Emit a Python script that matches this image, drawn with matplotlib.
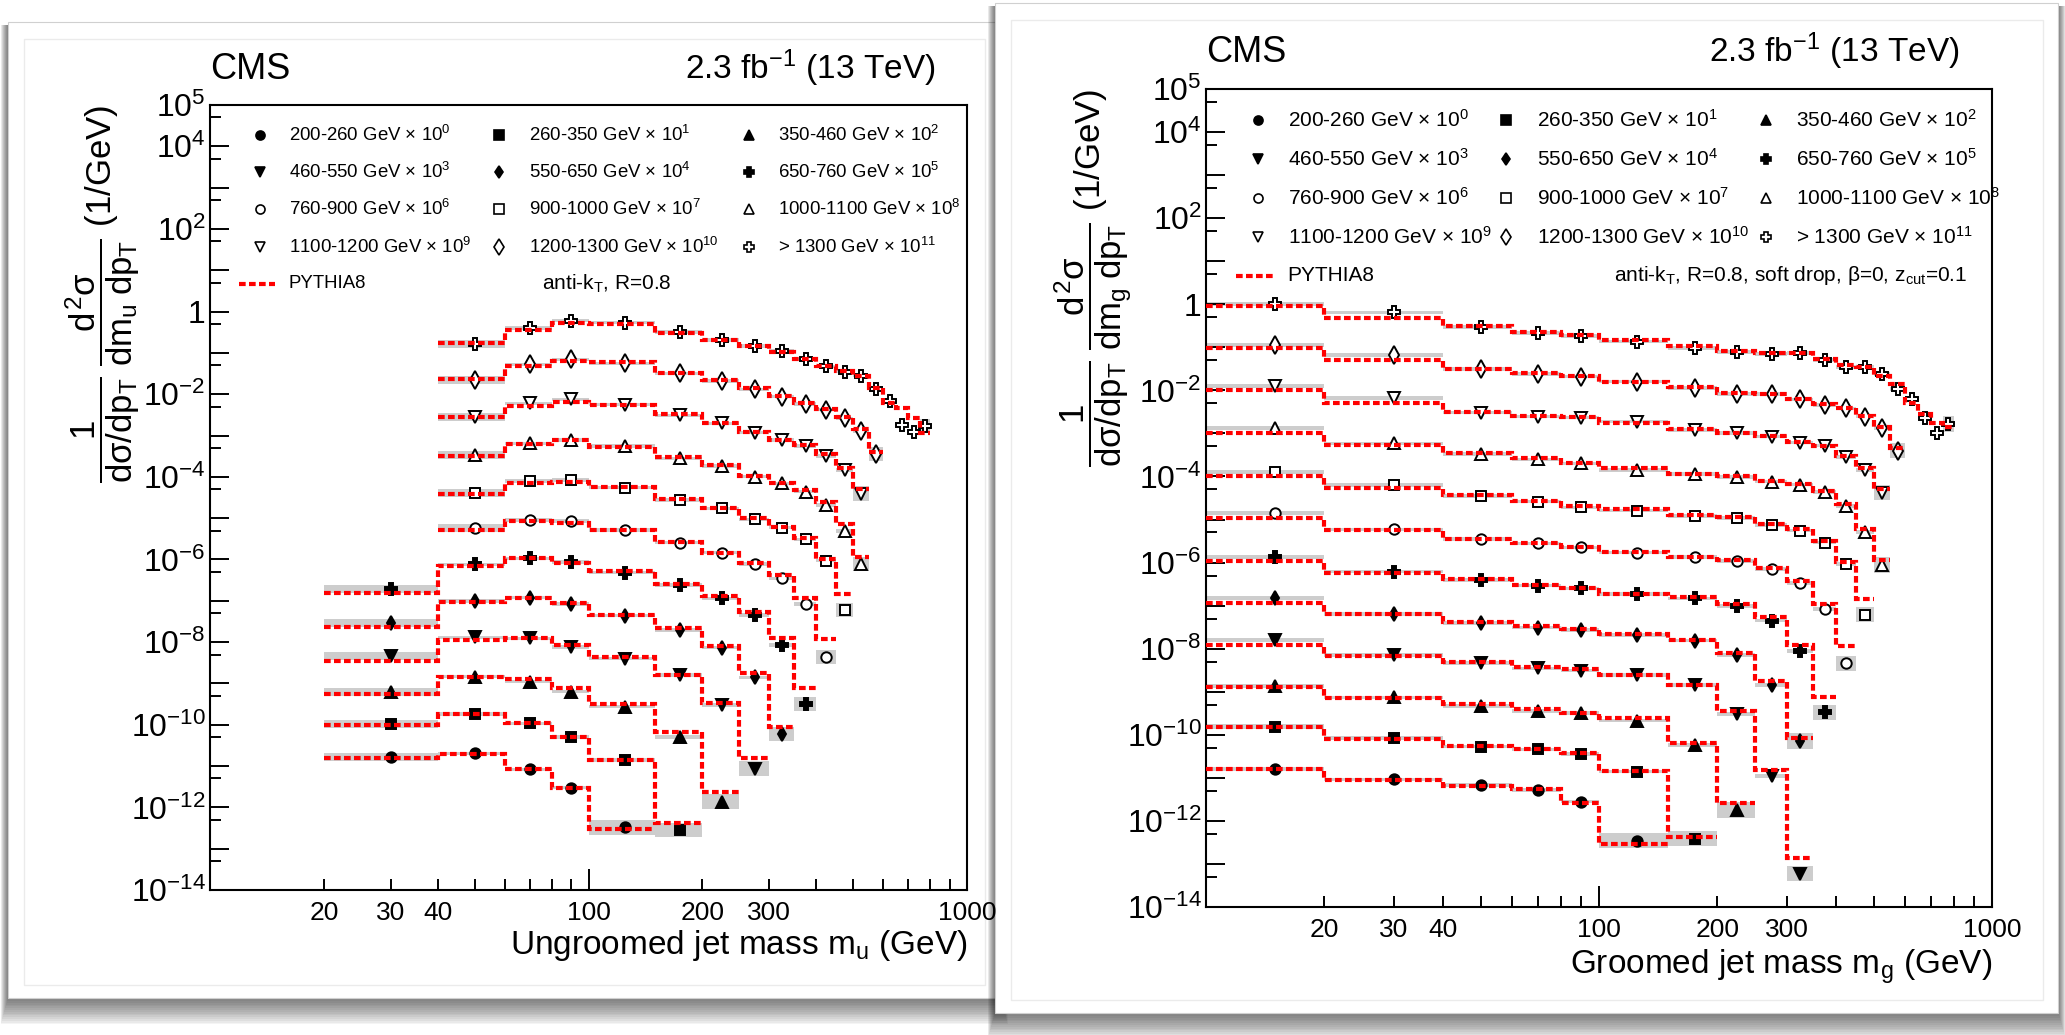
import numpy as np
import matplotlib
matplotlib.use("Agg")
import matplotlib.pyplot as plt
from matplotlib.patches import Rectangle
from matplotlib.lines import Line2D
from matplotlib.ticker import FixedLocator, FuncFormatter

plt.rcParams["font.family"] = ["Liberation Sans", "DejaVu Sans"]
plt.rcParams["mathtext.fontset"] = "custom"
plt.rcParams["mathtext.rm"] = "Liberation Sans"
plt.rcParams["mathtext.it"] = "Liberation Sans"
plt.rcParams["mathtext.bf"] = "Liberation Sans:bold"

nan = np.nan

# jet pT bins, each drawn scaled by 10^k
pt_labels = ["200-260 GeV", "260-350 GeV", "350-460 GeV", "460-550 GeV",
             "550-650 GeV", "650-760 GeV", "760-900 GeV", "900-1000 GeV",
             "1000-1100 GeV", "1100-1200 GeV", "1200-1300 GeV", "> 1300 GeV"]
markers = ["o", "s", "^", "v", "d", "P", "o", "s", "^", "v", "d", "P"]
filled = [True] * 6 + [False] * 6

# ungroomed jet mass bins (GeV)
edges_u = [20, 40, 60, 80, 100, 150, 200, 250, 300, 350, 400, 450, 500, 550,
           600, 650, 700, 750, 800]
data_u = [
    [1.62e-11, 2.04e-11, 8.3e-12, 3.0e-12, 3.3e-13],
    [1.04e-11, 1.82e-11, 1.08e-11, 5.1e-12, 1.40e-12, 2.8e-14],
    [6.3e-12, 1.46e-11, 1.10e-11, 6.3e-12, 2.74e-12, 5.1e-13, 1.38e-14],
    [4.6e-12, 1.30e-11, 1.23e-11, 7.7e-12, 4.0e-12, 1.60e-12, 3.0e-13, 8.7e-15],
    [2.96e-12, 9.9e-12, 1.19e-11, 8.4e-12, 4.4e-12, 1.96e-12, 7.3e-13, 1.40e-13, 5.9e-15],
    [1.97e-12, 7.6e-12, 1.07e-11, 8.7e-12, 4.8e-12, 2.41e-12, 1.15e-12, 4.5e-13, 8.5e-14, 3.2e-15],
    [nan, 5.7e-12, 9.0e-12, 8.6e-12, 5.2e-12, 2.55e-12, 1.46e-12, 7.8e-13, 3.5e-13, 8.4e-14, 4.4e-15],
    [nan, 4.15e-12, 7.96e-12, 8.4e-12, 5.5e-12, 2.76e-12, 1.73e-12, 9.4e-13, 5.9e-13, 3.08e-13,
     9.4e-14, 6.0e-15],
    [nan, 3.4e-12, 6.5e-12, 7.8e-12, 5.6e-12, 2.81e-12, 1.84e-12, 1.01e-12, 7.0e-13, 4.4e-13,
     2.08e-13, 4.9e-14, 7.8e-15],
    [nan, 2.87e-12, 6.0e-12, 7.55e-12, 5.6e-12, 3.1e-12, 1.98e-12, 1.18e-12, 7.8e-13, 5.6e-13,
     3.2e-13, 1.47e-13, 3.9e-14],
    [nan, 2.22e-12, 5.3e-12, 7.0e-12, 5.6e-12, 3.2e-12, 2.1e-12, 1.32e-12, 8.8e-13, 5.8e-13,
     4.2e-13, 2.6e-13, 1.29e-13, 3.6e-14],
    [nan, 1.66e-12, 4.0e-12, 6.05e-12, 5.4e-12, 3.2e-12, 2.07e-12, 1.48e-12, 1.10e-12, 7.0e-13,
     4.7e-13, 3.5e-13, 2.8e-13, 1.32e-13, 7.0e-14, 1.81e-14, 1.2e-14, 1.7e-14],
]
pythia_u = [
    [1.6e-11, 2.0e-11, 8.3e-12, 3.0e-12, 2.95e-13],
    [1.0e-11, 1.82e-11, 1.08e-11, 5.1e-12, 1.40e-12, 4.1e-14],
    [5.5e-12, 1.46e-11, 1.26e-11, 7.6e-12, 3.2e-12, 6.6e-13, 2.4e-14],
    [3.4e-12, 1.12e-11, 1.23e-11, 8.5e-12, 4.3e-12, 1.58e-12, 3.3e-13, 1.55e-14],
    [2.29e-12, 9.1e-12, 1.15e-11, 8.9e-12, 4.6e-12, 2.14e-12, 7.9e-13, 1.82e-13, 8.9e-15],
    [1.51e-12, 6.8e-12, 1.07e-11, 8.1e-12, 5.4e-12, 2.57e-12, 1.32e-12, 5.5e-13, 1.23e-13, 7.6e-15],
    [nan, 5.1e-12, 8.5e-12, 7.8e-12, 5.1e-12, 2.69e-12, 1.41e-12, 8.1e-13, 4.2e-13, 1.15e-13, 1.17e-14],
    [nan, 3.9e-12, 7.2e-12, 7.6e-12, 5.6e-12, 2.88e-12, 1.74e-12, 1.0e-12, 6.0e-13, 3.4e-13,
     1.05e-13, 1.45e-14],
    [nan, 3.2e-12, 6.3e-12, 7.8e-12, 5.4e-12, 3.1e-12, 1.91e-12, 1.05e-12, 7.1e-13, 4.7e-13,
     2.4e-13, 7.2e-14, 1.17e-14],
    [nan, 2.75e-12, 5.2e-12, 6.6e-12, 5.4e-12, 3.3e-12, 2.04e-12, 1.23e-12, 7.9e-13, 5.75e-13,
     3.5e-13, 1.66e-13, 5.2e-14],
    [nan, 2.29e-12, 4.9e-12, 6.5e-12, 5.9e-12, 3.3e-12, 2.19e-12, 1.38e-12, 9.1e-13, 6.0e-13,
     4.3e-13, 2.75e-13, 1.41e-13, 4.1e-14],
    [nan, 1.7e-12, 3.5e-12, 5.4e-12, 5.0e-12, 3.1e-12, 2.04e-12, 1.48e-12, 1.07e-12, 7.1e-13,
     4.7e-13, 3.6e-13, 2.7e-13, 1.38e-13, 6.3e-14, 4.6e-14, 2.6e-14, 1.15e-14],
]

# groomed (soft drop) jet mass bins (GeV)
edges_g = [10, 20, 40, 60, 80, 100, 150, 200, 250, 300, 350, 400, 450, 500, 550,
           600, 650, 700, 750, 800]
data_g = [
    [1.58e-11, 9.2e-12, 6.8e-12, 5.2e-12, 2.8e-12, 3.5e-13],
    [1.55e-11, 8.3e-12, 5.3e-12, 4.6e-12, 3.6e-12, 1.39e-12, 3.9e-14],
    [1.36e-11, 7.4e-12, 4.7e-12, 3.6e-12, 3.2e-12, 2.13e-12, 5.8e-13, 1.79e-14],
    [1.59e-11, 7.1e-12, 4.6e-12, 3.5e-12, 3.1e-12, 2.45e-12, 1.44e-12, 3.0e-13, 1.1e-14, 5.9e-17],
    [1.48e-11, 6.4e-12, 4.0e-12, 3.1e-12, 2.72e-12, 2.08e-12, 1.54e-12, 7.1e-13, 1.44e-13, 7.2e-15],
    [1.37e-11, 6.15e-12, 3.9e-12, 2.91e-12, 2.52e-12, 1.86e-12, 1.48e-12, 9.8e-13, 4.5e-13,
     8.9e-14, 3.3e-15],
    [1.40e-11, 5.9e-12, 3.5e-12, 2.8e-12, 2.26e-12, 1.7e-12, 1.33e-12, 1.09e-12, 7.0e-13,
     3.4e-13, 8.4e-14, 4.6e-15],
    [1.29e-11, 6.35e-12, 3.5e-12, 2.6e-12, 1.92e-12, 1.61e-12, 1.21e-12, 1.07e-12, 7.5e-13,
     5.5e-13, 2.9e-13, 9.3e-14, 6.1e-15],
    [1.32e-11, 5.9e-12, 3.3e-12, 2.5e-12, 2.02e-12, 1.42e-12, 1.14e-12, 9.6e-13, 7.6e-13,
     6.5e-13, 4.3e-13, 2.04e-13, 5.2e-14, 8.8e-15],
    [1.26e-11, 6.55e-12, 3.04e-12, 2.45e-12, 2.33e-12, 1.88e-12, 1.2e-12, 1.01e-12, 8.4e-13,
     6.1e-13, 5.2e-13, 2.8e-13, 1.42e-13, 4.2e-14],
    [1.13e-11, 6.6e-12, 3.14e-12, 2.4e-12, 2.08e-12, 1.6e-12, 1.12e-12, 8.2e-13, 8.3e-13,
     6.2e-13, 4.6e-13, 3.8e-13, 2.45e-13, 1.32e-13, 4.0e-14],
    [1.0e-11, 6.5e-12, 3.0e-12, 2.12e-12, 1.84e-12, 1.36e-12, 9.5e-13, 7.9e-13, 6.9e-13,
     7.3e-13, 5.1e-13, 3.5e-13, 3.5e-13, 2.4e-13, 1.06e-13, 6.3e-14, 2.33e-14, 1.0e-14, 1.66e-14],
]
pythia_g = [
    [1.58e-11, 8.9e-12, 6.5e-12, 5.4e-12, 2.6e-12, 2.9e-13],
    [1.48e-11, 7.9e-12, 5.5e-12, 4.6e-12, 3.8e-12, 1.45e-12, 4.3e-14],
    [1.32e-11, 7.3e-12, 5.2e-12, 3.9e-12, 3.2e-12, 2.4e-12, 6.6e-13, 2.57e-14],
    [1.22e-11, 6.8e-12, 5.0e-12, 3.8e-12, 3.3e-12, 2.45e-12, 1.44e-12, 3.5e-13, 1.5e-14, 1.4e-16],
    [1.17e-11, 6.4e-12, 4.1e-12, 3.4e-12, 2.8e-12, 2.19e-12, 1.58e-12, 8.1e-13, 1.82e-13, 8.5e-15],
    [1.11e-11, 5.8e-12, 4.1e-12, 3.0e-12, 2.6e-12, 1.9e-12, 1.62e-12, 1.1e-12, 5.5e-13,
     1.22e-13, 7.4e-15],
    [1.07e-11, 5.7e-12, 3.6e-12, 2.9e-12, 2.34e-12, 1.78e-12, 1.38e-12, 1.12e-12, 7.4e-13,
     3.7e-13, 1.1e-13, 1.17e-14],
    [1.0e-11, 5.3e-12, 3.7e-12, 2.75e-12, 2.04e-12, 1.74e-12, 1.29e-12, 1.12e-12, 7.9e-13,
     5.9e-13, 3.2e-13, 1.05e-13, 1.41e-14],
    [1.0e-11, 5.4e-12, 3.5e-12, 2.63e-12, 2.09e-12, 1.55e-12, 1.17e-12, 1.0e-12, 7.9e-13,
     6.8e-13, 4.7e-13, 2.3e-13, 6.0e-14, 1.15e-14],
    [1.02e-11, 5.2e-12, 3.2e-12, 2.57e-12, 2.4e-12, 1.7e-12, 1.26e-12, 1.02e-12, 8.9e-13,
     6.3e-13, 5.0e-13, 3.0e-13, 1.58e-13, 5.2e-14],
    [9.5e-12, 5.1e-12, 3.2e-12, 2.5e-12, 2.14e-12, 1.58e-12, 1.17e-12, 8.5e-13, 8.3e-13,
     6.3e-13, 4.8e-13, 3.8e-13, 2.5e-13, 1.38e-13, 4.5e-14],
    [9.1e-12, 4.9e-12, 3.2e-12, 2.3e-12, 1.95e-12, 1.48e-12, 1.05e-12, 8.3e-13, 7.4e-13,
     7.4e-13, 5.4e-13, 3.8e-13, 3.5e-13, 2.1e-13, 1.41e-13, 5.0e-14, 2.8e-14, 1.78e-14, 1.41e-14],
]

W, H = 2065, 1035
fig = plt.figure(figsize=(W / 100, H / 100), dpi=100)
fig.patch.set_facecolor("white")

RED_LS = (0, (1.6, 0.8))


def box(x0, y0, x1, y1, **kw):
    fig.add_artist(Rectangle((x0 / W, 1 - y1 / H), (x1 - x0) / W, (y1 - y0) / H,
                             transform=fig.transFigure, **kw))


def panel(x0, y0, x1, y1, z):
    # screenshot-like card with a soft shadow
    for i in range(14):
        box(x0 - 1 - i * 0.5, y0 + 3, x1 + 1 + i * 0.5, y1 + 3 + i * 1.8,
            facecolor="black", edgecolor="none", alpha=0.045, zorder=z)
    box(x0, y0, x1, y1, facecolor="white", edgecolor="#d0d0d0", lw=0.8, zorder=z + 0.1)
    box(x0 + 16, y0 + 17, x1 - 15, y1 - 13, facecolor="none", edgecolor="#ebebeb",
        lw=1, zorder=z + 0.2)


panel(8, 22, 1000, 998, -20)
panel(995, 3, 2058, 1013, -10)


def marker_size(k, legend=False):
    m = markers[k]
    if m == "d":
        s = 7.5 if filled[k] else 9
    elif m in "^vP":
        s = 8.5
    else:
        s = 7.5
    return s - 1 if legend else s


def ylab(v, pos):
    e = int(round(np.log10(v)))
    if e in (5, 4, 2) or (e <= 0 and e % 2 == 0):
        return "1" if e == 0 else r"$10^{%d}$" % e
    return ""


def xlab(v, pos):
    return "%d" % v if int(round(v)) in (20, 30, 40, 100, 200, 300, 1000) else ""


def make_panel(rect, edges, data, pythia, first_band, xtitle, sub, corner_text, leg_fs):
    ax = fig.add_axes(rect)
    ax.set_xscale("log")
    ax.set_yscale("log")
    ax.set_xlim(10, 1000)
    ax.set_ylim(1e-14, 1e5)
    e = np.array(edges, float)
    nb = len(e) - 1
    for k in range(12):
        v = np.array(data[k] + [nan] * (nb - len(data[k]))) * 10.0 ** k
        p = np.array(pythia[k] + [nan] * (nb - len(pythia[k]))) * 10.0 ** k
        idx = np.where(~np.isnan(v))[0]
        lo, hi = e[idx], e[idx + 1]
        f = np.full(len(idx), 1.1)
        f[0] = first_band
        f[-1] = 1.5
        ax.bar(lo, v[idx] * f - v[idx] / f, width=hi - lo, bottom=v[idx] / f,
               align="edge", color="#cdcdcd", lw=0, zorder=1)
        ax.plot(0.5 * (lo + hi), v[idx], ls="none", marker=markers[k],
                ms=marker_size(k), mec="black", mew=1.4,
                mfc="black" if filled[k] else "white", zorder=3)
        pi = np.where(~np.isnan(p))[0]
        ax.stairs(p[pi], e[pi[0]:pi[-1] + 2], baseline=None, color="red",
                  lw=3.0, ls=RED_LS, zorder=4)

    ax.xaxis.set_major_locator(FixedLocator([100, 1000]))
    ax.xaxis.set_minor_locator(FixedLocator([20, 30, 40, 50, 60, 70, 80, 90,
                                             200, 300, 400, 500, 600, 700, 800, 900]))
    ax.xaxis.set_major_formatter(FuncFormatter(xlab))
    ax.xaxis.set_minor_formatter(FuncFormatter(xlab))
    ax.yaxis.set_major_locator(FixedLocator([10.0 ** n for n in range(-14, 6)]))
    ax.yaxis.set_minor_locator(FixedLocator([5 * 10.0 ** n for n in range(-14, 5)]))
    ax.yaxis.set_major_formatter(FuncFormatter(ylab))
    ax.tick_params(which="both", direction="in", top=False, right=False, width=1.4)
    ax.tick_params(axis="x", which="major", length=15, labelsize=19, pad=8)
    ax.tick_params(axis="x", which="minor", length=8, labelsize=19, pad=8)
    ax.tick_params(axis="y", which="major", length=14, labelsize=23, pad=3)
    ax.tick_params(axis="y", which="minor", length=8)
    for s in ax.spines.values():
        s.set_linewidth(1.5)

    ax.text(1.0, -0.082, xtitle, transform=ax.transAxes, ha="right", va="baseline",
            fontsize=24, clip_on=False)
    ax.text(-0.142, 1.0,
            r"$\dfrac{1}{d\sigma/dp_{T}}\;\dfrac{d^{2}\sigma}{dm_{%s}\;dp_{T}}$ (1/GeV)" % sub,
            transform=ax.transAxes, rotation=90, rotation_mode="anchor",
            ha="right", va="center", fontsize=25, clip_on=False)
    ax.text(0.0, 1.033, "CMS", transform=ax.transAxes, ha="left", va="baseline",
            fontsize=26, clip_on=False)
    ax.text(0.959, 1.033, r"2.3 fb$^{-1}$ (13 TeV)", transform=ax.transAxes,
            ha="right", va="baseline", fontsize=24, clip_on=False)

    # legend, 3 columns x 4 rows
    cols_m = [0.066, 0.382, 0.712]
    cols_t = [0.104, 0.421, 0.750]
    rows = [0.962, 0.915, 0.867, 0.819]
    for k in range(12):
        r, c = divmod(k, 3)
        ax.plot([cols_m[c]], [rows[r]], transform=ax.transAxes, ls="none",
                marker=markers[k], ms=marker_size(k, legend=True), mec="black",
                mew=1.2, mfc="black" if filled[k] else "white", clip_on=False)
        ax.text(cols_t[c], rows[r], r"%s $\times$ 10$^{%d}$" % (pt_labels[k], k),
                transform=ax.transAxes, ha="left", va="center", fontsize=leg_fs)
    ax.add_line(Line2D([0.038, 0.086], [0.772, 0.772], transform=ax.transAxes,
                       color="red", lw=3.0, ls=RED_LS))
    ax.text(cols_t[0], 0.772, "PYTHIA8", transform=ax.transAxes, ha="left",
            va="center", fontsize=leg_fs)
    ax.text(corner_text[0], 0.772, corner_text[1], transform=ax.transAxes,
            ha=corner_text[2], va="center", fontsize=15)
    return ax


make_panel([210 / W, 1 - 890 / H, 757 / W, 785 / H], edges_u, data_u, pythia_u, 1.25,
           r"Ungroomed jet mass m$_{u}$ (GeV)", "u",
           (0.439, r"anti-k$_{T}$, R=0.8", "left"), 13.4)
make_panel([1206 / W, 1 - 907 / H, 786 / W, 818 / H], edges_g, data_g, pythia_g, 1.12,
           r"Groomed jet mass m$_{g}$ (GeV)", "g",
           (0.968, r"anti-k$_{T}$, R=0.8, soft drop, $\beta$=0, z$_{cut}$=0.1", "right"), 15)

fig.savefig("out.png", dpi=100, facecolor="white")
